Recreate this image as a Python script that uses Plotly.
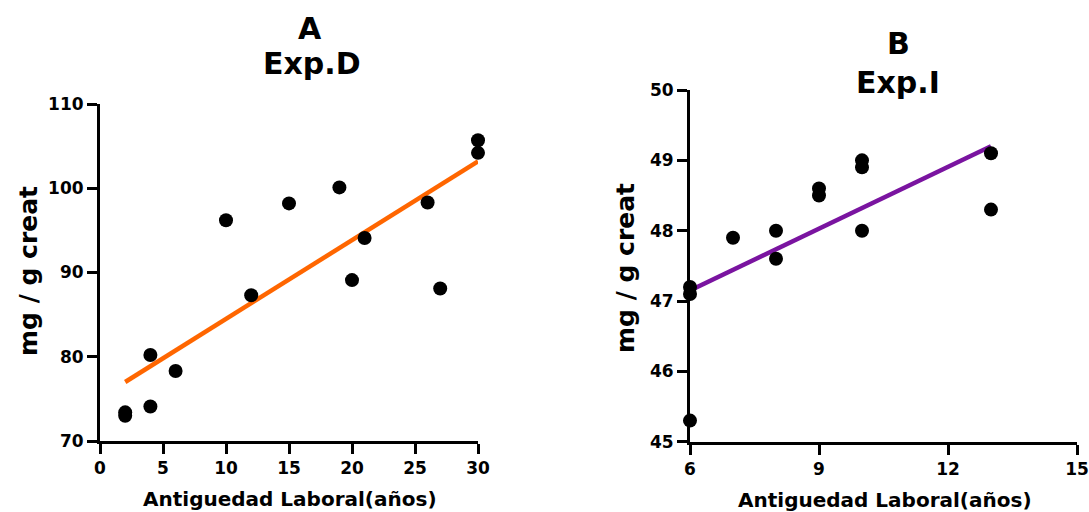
import plotly.graph_objects as go

# Panel A data (Exp.D)
a_years = [2, 2, 4, 4, 6, 10, 12, 15, 19, 20, 21, 26, 27, 30, 30]
a_values = [73.4, 73.0, 80.2, 74.1, 78.3, 96.2, 87.3, 98.2, 100.1, 89.1, 94.1, 98.3, 88.1, 105.7, 104.2]
a_fit_x = [2, 30]
a_fit_y = [77.0, 103.2]

# Panel B data (Exp.I)
b_years = [6, 6, 6, 7, 8, 8, 9, 9, 10, 10, 10, 13, 13]
b_values = [47.2, 47.1, 45.3, 47.9, 48.0, 47.6, 48.6, 48.5, 49.0, 48.9, 48.0, 49.1, 48.3]
b_fit_x = [6, 13]
b_fit_y = [47.15, 49.2]

a_xticks = [0, 5, 10, 15, 20, 25, 30]
a_yticks = [70, 80, 90, 100, 110]
b_xticks = [6, 9, 12, 15]
b_yticks = [45, 46, 47, 48, 49, 50]

W, H = 1089, 512
FONT = "DejaVu Sans"

fig = go.Figure()
fig.add_trace(go.Scatter(x=a_fit_x, y=a_fit_y, mode="lines",
                         line=dict(color="#FF6600", width=4.5), xaxis="x", yaxis="y",
                         showlegend=False, cliponaxis=False))
fig.add_trace(go.Scatter(x=a_years, y=a_values, mode="markers",
                         marker=dict(color="black", size=14), xaxis="x", yaxis="y",
                         showlegend=False, cliponaxis=False))
fig.add_trace(go.Scatter(x=b_fit_x, y=b_fit_y, mode="lines",
                         line=dict(color="#7A14A0", width=4.5), xaxis="x2", yaxis="y2",
                         showlegend=False, cliponaxis=False))
fig.add_trace(go.Scatter(x=b_years, y=b_values, mode="markers",
                         marker=dict(color="black", size=14), xaxis="x2", yaxis="y2",
                         showlegend=False, cliponaxis=False))

tickfont = dict(family=FONT, size=17, color="black", weight="bold")
axis_common = dict(showline=True, linecolor="black", linewidth=3, ticks="outside",
                   ticklen=10, tickwidth=3, tickcolor="black", showgrid=False,
                   zeroline=False, tickfont=tickfont, fixedrange=True,
                   automargin=False)

def px_x(p):
    return p / W

def px_y(p):
    return 1 - p / H

fig.update_layout(
    width=W, height=H, margin=dict(l=0, r=0, t=0, b=0),
    paper_bgcolor="white", plot_bgcolor="white",
    xaxis=dict(domain=[px_x(100), px_x(478)], range=[0, 30], tickvals=a_xticks,
               anchor="y", **axis_common),
    yaxis=dict(domain=[px_y(441), px_y(104)], range=[70, 110], tickvals=a_yticks,
               anchor="x", **axis_common),
    xaxis2=dict(domain=[px_x(690), px_x(1077)], range=[6, 15], tickvals=b_xticks,
                anchor="y2", **axis_common),
    yaxis2=dict(domain=[px_y(441.7), px_y(90)], range=[45, 50], tickvals=b_yticks,
                anchor="x2", **axis_common),
)

def ann(text, x, y, size, angle=0):
    fig.add_annotation(text=text, x=px_x(x), y=px_y(y), xref="paper", yref="paper",
                       showarrow=False, xanchor="center", yanchor="middle",
                       textangle=angle,
                       font=dict(family=FONT, size=size, color="black", weight="bold"))

ann("A", 310, 28, 30)
ann("Exp.D", 312, 63, 30)
ann("B", 898, 43, 30)
ann("Exp.I", 898, 82, 30)
ann("mg / g creat", 28, 271, 25, -90)
ann("mg / g creat", 625, 268, 25, -90)
ann("Antiguedad Laboral(años)", 290, 499, 20)
ann("Antiguedad Laboral(años)", 885, 500, 20)

fig.write_html("out.html", config={"displayModeBar": False},
               post_script="document.body.style.margin='0';document.body.style.padding='0';")
